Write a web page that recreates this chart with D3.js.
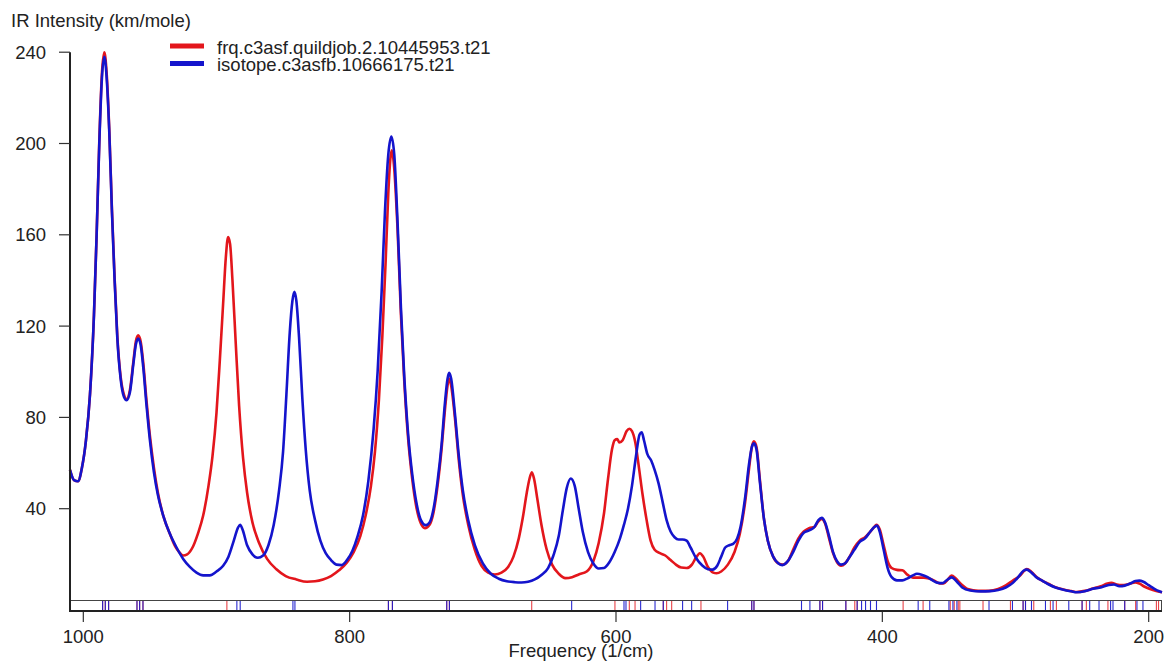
<!DOCTYPE html>
<html>
<head>
<meta charset="utf-8">
<script src="https://cdn.jsdelivr.net/npm/d3@7"></script>
<style>
  html, body { margin: 0; padding: 0; background: #fff; }
  svg { display: block; }
  text { font-family: "Liberation Sans", Arial, Helvetica, sans-serif; fill: #222; }
</style>
</head>
<body>
<svg id="chart" width="1166" height="672"></svg>
<script>
// Series labels (file names of the two frequency runs)
const seriesNames = ["frq.c3asf.quildjob.2.10445953.t21", "isotope.c3asfb.10666175.t21"];
const seriesColors = ["#e3161c", "#1414cc"];

// Axis ticks
const xTickValues = [1000, 800, 600, 400, 200];
const yTickValues = [40, 80, 120, 160, 200, 240];

// Broadened IR spectrum, [frequency (1/cm), intensity (km/mole)]
const frqSpectrum = [
  [1010, 57], [1007, 52.5], [1004, 52], [1001, 58], [998, 70], [995, 90], [992, 125], [990, 160],
  [988, 201], [986, 231], [984.2, 240], [982.5, 231], [980.5, 206], [978.5, 171], [976.5, 141],
  [974.5, 116], [972, 98], [969.5, 90], [967.5, 88], [965, 92], [962.5, 104], [960.5, 113.5],
  [958.8, 116], [957, 113.5], [955, 104], [952.5, 87], [950, 72], [947, 58], [944, 47], [940, 37],
  [935, 29], [931, 23.5], [928, 21], [925, 19.5], [922, 20], [918, 23], [914, 29], [910, 37],
  [906, 50], [903, 63], [900, 82], [897.5, 105], [895, 130], [893, 150], [891.3, 159], [889.8, 156],
  [888, 140], [885.5, 112], [883, 85], [880, 62], [877, 47], [873, 34], [868, 25], [862, 18],
  [855, 13.5], [848, 10.5], [840, 9], [832, 8], [826, 8.2], [820, 9], [814, 10.5], [808, 13],
  [802, 16.5], [797, 21], [792, 28], [788, 37], [784, 50], [781, 65], [778, 88], [775.5, 115],
  [773, 148], [771, 178], [769.3, 194], [768.3, 197], [766.8, 191], [764, 162], [761.5, 125],
  [759, 96], [756, 70], [753, 53], [750, 41], [746.5, 33.5], [743.5, 31.5], [740, 33], [737, 38.5],
  [734, 50], [731, 66], [728.5, 83], [726.5, 94], [725.3, 97], [723.8, 94], [721, 80], [718, 61],
  [715, 46], [711, 33], [706, 22], [701, 15], [696, 12], [691, 11.2], [686, 12], [681, 14.5],
  [677, 19], [673, 27], [670, 36], [667, 47], [665, 53], [663.2, 56], [661.5, 53], [659, 44],
  [656, 33], [652, 22], [648, 15.5], [643, 11.5], [638, 9.6], [633, 10], [628, 11.2], [622, 12.5],
  [617, 17], [613, 25], [609, 38], [606, 53], [603, 66], [601, 70], [599, 70.5], [597.5, 69],
  [595, 70], [592, 74], [590, 75], [588, 74], [585.5, 69], [583, 59], [580, 46], [577, 35],
  [574, 26], [571, 22], [567, 20.5], [563, 19.5], [559, 17.5], [555, 15.5], [551, 14.2], [547, 14],
  [543, 15.5], [540, 18.5], [537, 20.5], [534.5, 19], [531, 14.5], [527, 12], [524.5, 11.7],
  [521, 12.5], [516, 15.5], [511, 21], [507, 29], [503, 43], [500, 58], [498, 67], [496.5, 69.5],
  [494.5, 67], [492, 53], [489, 36], [486, 26], [482, 19], [478, 16], [475, 15.5], [471, 17],
  [467, 22], [463, 27], [459, 30], [455, 31.5], [451, 32], [448, 34.5], [445.5, 35.5], [443, 33.5],
  [440, 27], [437, 20.5], [434, 16.5], [431, 15], [428, 16], [425, 18.5], [421, 23], [417, 26],
  [413, 27.5], [409, 30], [406, 32], [404.5, 33], [402, 31], [399, 24], [396, 17], [393, 14],
  [389, 13.2], [385, 13], [381, 11], [377, 9.8], [373, 9.8], [369, 9.8], [365, 9.4], [361, 8.5],
  [357, 7.3], [354, 7.2], [351, 8.8], [348, 10.7], [345, 9.5], [341, 7], [336, 4.8], [328, 4],
  [320, 4], [313, 4.8], [307, 6.5], [302, 8.5], [297, 10.5], [293, 13], [291.5, 13.6], [288, 12.3],
  [284, 10], [280, 8.5], [275, 7], [270, 5.6], [264, 4.6], [258, 3.9], [254, 3.5], [248, 4],
  [242, 5], [236, 6], [231, 7.2], [228, 7.5], [224, 6.8], [220, 6.5], [215, 7], [210, 7.7],
  [207, 7.2], [203, 5.8], [199, 4.8], [195, 4], [190, 3.4]
];

const isotopeSpectrum = [
  [1010, 57], [1007, 52.5], [1004, 52], [1001, 58], [998, 70], [995, 90], [992, 125], [990, 160],
  [988, 200], [986, 229], [984.2, 238], [982.5, 229], [980.5, 205], [978.5, 170], [976.5, 140],
  [974.5, 115], [972, 97], [969.5, 89], [967.5, 87.5], [965, 91], [962.5, 103], [960.5, 112],
  [958.8, 114.5], [957, 112], [955, 102], [952.5, 85], [950, 70], [947, 56], [944, 46], [940, 37],
  [935, 29], [930, 23], [925, 18], [920, 14.5], [915, 12], [910, 10.8], [905, 10.8], [900, 12.5],
  [895, 15], [891, 19], [887, 26], [884, 31.5], [882.3, 33], [880.5, 31], [877, 24], [873, 20],
  [869, 18.5], [865, 19.5], [861, 24], [857, 33], [853, 48], [850, 65], [847.5, 90], [845, 117],
  [843, 131], [841.5, 135], [840, 131], [838, 115], [835.5, 88], [833, 66], [830, 48], [826, 35],
  [822, 26], [818, 20.5], [814, 17.5], [810, 15.5], [806, 15.3], [802, 17.5], [798, 21.5],
  [794, 28], [790, 37], [786, 52], [782, 75], [779, 100], [776, 135], [773.5, 170], [771, 195],
  [768.7, 203], [766.5, 195], [764, 165], [761.5, 128], [759, 98], [756, 72], [753, 55], [750, 43],
  [746.5, 35], [743, 32.8], [740, 34], [737, 40], [734, 52], [731, 68], [728.5, 86], [726.5, 97],
  [725.3, 99.5], [723.8, 97], [721, 82], [718, 63], [715, 48], [711, 35], [706, 24], [700, 16],
  [694, 11.5], [688, 9.3], [682, 8.2], [676, 7.8], [671, 7.7], [666, 8], [661, 9], [656, 11],
  [651, 14], [647, 19.5], [643, 28], [640, 39], [637, 49], [634, 53.2], [631, 50], [628, 40],
  [625, 30], [621, 21], [617, 16], [613, 13.8], [609, 14], [605, 16.5], [601, 21], [597, 27],
  [594, 33], [591, 40], [588, 50], [585, 63], [582.3, 72.5], [580.7, 73.5], [579, 70], [576.5, 64],
  [573.5, 61], [571, 57], [568, 51], [565, 43], [562, 35], [559, 30], [556, 27.5], [553, 26.5],
  [550, 26.5], [547, 26], [544, 23], [540, 18.5], [535, 15], [531, 13.5], [527.5, 13.3], [524, 15],
  [521, 19], [518, 23], [515, 24], [512, 24.6], [509, 27], [506.5, 32], [503, 45], [500, 60],
  [498, 67], [496.4, 68.6], [494.5, 66], [492, 52], [489, 36], [486, 26], [482, 19], [478, 16],
  [475, 15.3], [471, 17], [467, 21], [463, 26], [459, 29.5], [455, 30.5], [451, 32], [448, 35],
  [445.5, 36], [443, 34], [440, 28], [437, 21], [434, 17], [431, 15.5], [428, 16], [425, 18.5],
  [421, 22], [417, 25.5], [413, 27], [409, 30], [406, 32], [404, 32.6], [402, 30], [399, 22],
  [396, 14], [393, 10], [389, 8.6], [385, 8.6], [381, 9.5], [377, 10.8], [374, 11.5], [370, 11],
  [366, 10], [362, 8.5], [358, 7.5], [355, 7.4], [352, 8.5], [348, 9.9], [344, 8], [340, 5.5],
  [334, 4.2], [326, 3.8], [319, 3.9], [313, 4.4], [307, 5.6], [302, 7.5], [298, 10], [294, 12.8],
  [291.5, 13.3], [288, 12], [284, 9.8], [280, 8.5], [275, 6.8], [270, 5.5], [264, 4.5], [258, 3.8],
  [254, 3.4], [248, 3.8], [242, 4.9], [236, 5.5], [230, 6.6], [226, 6.8], [222, 6], [218, 6.3],
  [214, 7.2], [210, 8.3], [207, 8.5], [204, 8], [200, 6.5], [196, 5], [192, 3.8], [190, 3.4]
];

// Normal-mode frequencies (1/cm) shown as sticks under the spectrum
const frqModes = [
  985.5, 983.5, 981.0, 959.7, 957.7, 955.2, 892.2, 770.9, 767.9, 727.1, 725.1, 663.3,
  600.8, 590.0, 585.7, 564.5, 562.0, 558.2, 536.2, 498.2, 496.4, 446.9, 444.9, 427.4,
  420.7, 418.9, 384.4, 369.4, 349.0, 346.0, 343.0, 341.8, 324.4, 303.8, 294.3, 292.5,
  286.3, 273.8, 269.3, 250.0, 246.8, 230.6, 218.0, 209.8, 194.2, 192.6
];
const isotopeModes = [
  985.5, 983.5, 981.0, 959.7, 957.7, 955.2, 884.7, 882.2, 842.6, 841.1, 770.9, 767.9,
  727.1, 725.1, 633.3, 594.0, 592.5, 581.5, 570.7, 564.5, 550.0, 543.2, 516.2, 498.0,
  496.4, 460.7, 454.4, 446.9, 444.9, 427.4, 418.9, 415.6, 412.6, 408.9, 404.4, 373.1,
  364.4, 350.0, 347.0, 344.0, 319.9, 302.3, 294.3, 292.5, 288.0, 277.5, 271.8, 260.0,
  250.0, 244.3, 237.3, 228.6, 226.8, 218.0, 208.8, 204.3
];

const svg = d3.select("#chart");
const plot = { left: 70, right: 1162, top: 52.2, zero: 600, bottom: 611 };

const x = d3.scaleLinear().domain([1010, 190]).range([plot.left, plot.right]);
const y = d3.scaleLinear().domain([0, 240]).range([plot.zero, plot.top]);

// Stick strip between the zero line and the frequency axis
const strip = svg.append("g");
[frqModes, isotopeModes].forEach((modes, i) => {
  strip.append("g").selectAll("line").data(modes).join("line")
    .attr("x1", d => x(d)).attr("x2", d => x(d))
    .attr("y1", plot.zero).attr("y2", plot.bottom)
    .attr("stroke", seriesColors[i])
    .attr("stroke-width", 1.1)
    .attr("opacity", i === 0 ? 0.8 : 0.9);
});
strip.append("line")
  .attr("x1", plot.left).attr("x2", plot.right)
  .attr("y1", plot.zero + 0.5).attr("y2", plot.zero + 0.5)
  .attr("stroke", "#444").attr("stroke-width", 1);
strip.append("line")
  .attr("x1", plot.right - 0.5).attr("x2", plot.right - 0.5)
  .attr("y1", plot.zero).attr("y2", plot.bottom)
  .attr("stroke", "#444").attr("stroke-width", 1);

// Spectra
const line = d3.line()
  .x(d => x(d[0]))
  .y(d => y(d[1]))
  .curve(d3.curveMonotoneX);

[frqSpectrum, isotopeSpectrum].forEach((data, i) => {
  svg.append("path")
    .datum(data)
    .attr("d", line)
    .attr("fill", "none")
    .attr("stroke", seriesColors[i])
    .attr("stroke-width", 2.6)
    .attr("stroke-linejoin", "round");
});

// Frequency axis
const xAxis = svg.append("g").attr("transform", `translate(0,${plot.bottom})`);
xAxis.append("line")
  .attr("x1", plot.left - 1).attr("x2", plot.right)
  .attr("y1", 0).attr("y2", 0)
  .attr("stroke", "#222").attr("stroke-width", 2);
xAxis.selectAll("line.tick").data(xTickValues).join("line")
  .attr("class", "tick")
  .attr("x1", d => x(d)).attr("x2", d => x(d))
  .attr("y1", 1).attr("y2", 11)
  .attr("stroke", "#333").attr("stroke-width", 1.2);
xAxis.selectAll("text").data(xTickValues).join("text")
  .attr("x", d => x(d)).attr("y", 32)
  .attr("text-anchor", "middle")
  .attr("font-size", 18.5)
  .text(d => d);

svg.append("text")
  .attr("x", 581).attr("y", 657)
  .attr("text-anchor", "middle")
  .attr("font-size", 18.5)
  .text("Frequency (1/cm)");

// Intensity axis
const yAxis = svg.append("g");
yAxis.append("line")
  .attr("x1", plot.left).attr("x2", plot.left)
  .attr("y1", y(240)).attr("y2", plot.bottom + 1)
  .attr("stroke", "#222").attr("stroke-width", 2);
yAxis.selectAll("line.tick").data(yTickValues).join("line")
  .attr("class", "tick")
  .attr("x1", plot.left - 11).attr("x2", plot.left)
  .attr("y1", d => y(d)).attr("y2", d => y(d))
  .attr("stroke", "#333").attr("stroke-width", 1.2);
yAxis.selectAll("text").data(yTickValues).join("text")
  .attr("x", 46).attr("y", d => y(d))
  .attr("dy", "0.35em")
  .attr("text-anchor", "end")
  .attr("font-size", 18.5)
  .text(d => d);

svg.append("text")
  .attr("x", 11).attr("y", 27)
  .attr("font-size", 18.5)
  .text("IR Intensity (km/mole)");

// Legend
const legend = svg.append("g");
seriesNames.forEach((name, i) => {
  const cy = 46 + i * 17.5;
  legend.append("line")
    .attr("x1", 170).attr("x2", 204)
    .attr("y1", cy).attr("y2", cy)
    .attr("stroke", seriesColors[i]).attr("stroke-width", 5);
  legend.append("text")
    .attr("x", 217).attr("y", cy + 7.5)
    .attr("font-size", 18.5)
    .text(name);
});
</script>
</body>
</html>
